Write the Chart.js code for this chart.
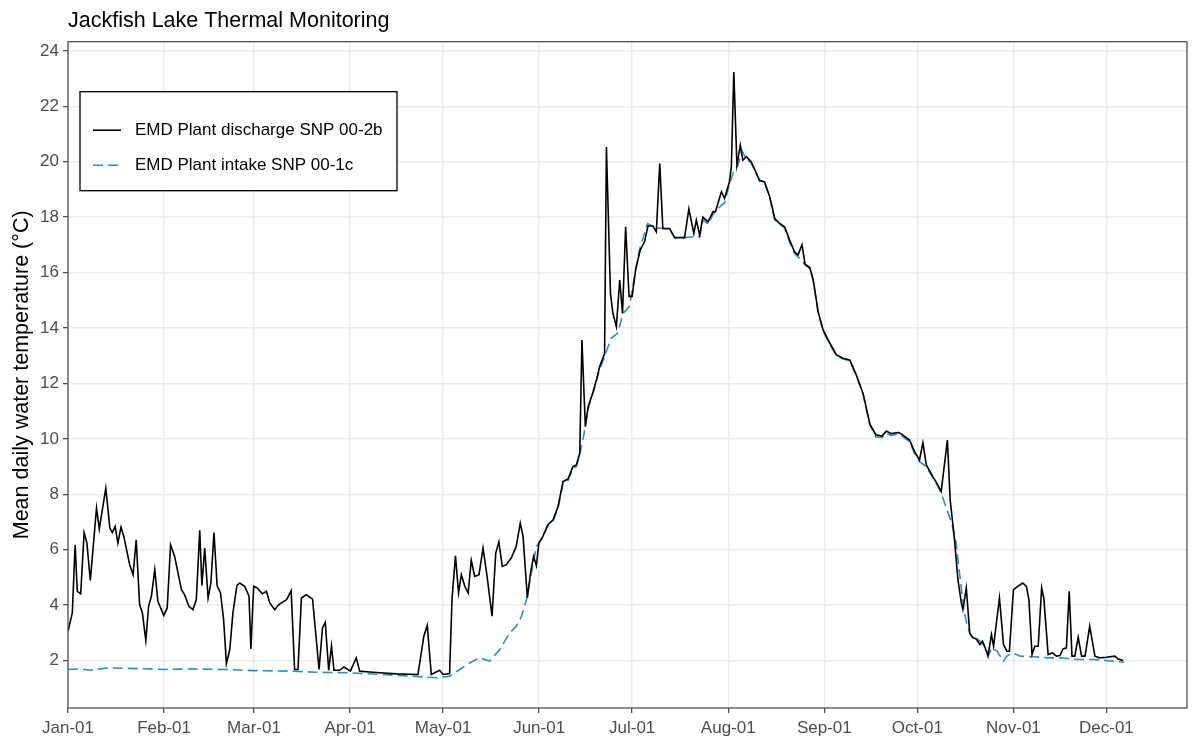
<!DOCTYPE html>
<html>
<head>
<meta charset="utf-8">
<title>Jackfish Lake Thermal Monitoring</title>
<script src="https://cdn.jsdelivr.net/npm/chart.js@4.4.0/dist/chart.umd.min.js"></script>
<style>
  html, body { margin: 0; padding: 0; background: #fff; }
  canvas { display: block; }
</style>
</head>
<body>
<canvas id="tempChart" width="1199" height="736"></canvas>
<script>
// labels
const chartTitle = 'Jackfish Lake Thermal Monitoring';
const yAxisTitle = 'Mean daily water temperature (°C)';
const seriesNames = ['EMD Plant discharge SNP 00-2b', 'EMD Plant intake SNP 00-1c'];

// x axis: day of year (leap year), ticks at month starts
const monthDays = [0, 31, 60, 91, 121, 152, 182, 213, 244, 274, 305, 335];
const monthLabels = ['Jan-01', 'Feb-01', 'Mar-01', 'Apr-01', 'May-01', 'Jun-01',
                     'Jul-01', 'Aug-01', 'Sep-01', 'Oct-01', 'Nov-01', 'Dec-01'];
const yTicks = [2, 4, 6, 8, 10, 12, 14, 16, 18, 20, 22, 24];

// discharge (day of year, deg C)
const dischargeDays = [
  0, 1.4, 2.3, 3.0, 4.1, 5.2, 6.1, 7.2, 9.2, 10.1, 12.2, 13.5, 14.3, 15.2, 16.1, 17.1, 18.0,
  19.9, 21.0, 22.0, 23.1, 24.0, 25.1, 26.0, 26.9, 28.0, 29.0, 30.9, 32.0, 33.1, 34.4, 36.6,
  37.6, 39.0, 40.3, 41.4, 42.5, 43.2, 44.1, 45.2, 46.1, 47.1, 48.1, 49.2, 50.2, 51.1, 52.2,
  53.2, 54.5, 55.4, 57.0, 58.4, 59.0, 59.9, 61.0, 62.7, 64.0, 65.1, 66.7, 68.0, 70.5, 72.0,
  73.1, 74.2, 75.3, 76.9, 78.9, 81.0, 82.1, 83.0, 84.1, 85.0, 85.8, 87.6, 89.0, 91.1, 93.0,
  94.1, 97.3, 100.6, 105.9, 112.9, 114.8, 115.9, 117.2, 119.9, 121.0, 123.1, 123.9, 125.0,
  126.0, 126.9, 128.0, 129.1, 130.1, 131.2, 132.6, 133.9, 135.2, 136.8, 138.0, 139.0, 140.1,
  141.4, 143.0, 144.6, 145.9, 146.8, 148.2, 149.2, 150.2, 151.1, 151.9, 153.2, 154.8, 156.5,
  158.1, 159.7, 161.3, 162.9, 164.0, 165.1, 165.8, 166.9, 167.8, 169.4, 170.5, 171.5, 173.1,
  173.7, 175.0, 175.8, 176.9, 178.0, 178.9, 179.9, 181.0, 182.0, 183.1, 184.6, 186.0, 187.1,
  188.7, 189.8, 190.9, 191.9, 194.1, 195.7, 198.9, 200.3, 201.9, 202.7, 203.8, 204.8, 206.5,
  208.1, 208.9, 210.8, 211.8, 213.4, 214.0, 214.8, 215.8, 216.9, 217.7, 218.8, 220.4, 222.1,
  223.1, 224.7, 226.4, 228.0, 229.6, 231.2, 232.8, 234.4, 235.5, 236.8, 237.8, 239.3, 240.4,
  242.0, 243.6, 245.8, 247.9, 250.0, 252.2, 254.3, 256.5, 258.7, 260.6, 262.6, 264.0, 265.6,
  267.9, 268.8, 271.5, 273.1, 274.7, 275.8, 276.9, 279.0, 280.6, 281.7, 283.7, 284.6, 286.0,
  287.1, 288.2, 288.7, 289.8, 290.9, 292.0, 293.0, 294.2, 295.0, 295.7, 296.8, 297.9, 298.6,
  300.5, 301.8, 302.9, 303.7, 305.0, 306.4, 308.0, 309.2, 310.0, 311.0, 311.9, 313.0, 314.1,
  314.8, 316.2, 317.6, 318.9, 320.0, 321.0, 322.1, 323.0, 323.9, 324.8, 325.9, 327.0, 328.1,
  329.6, 331.3, 332.8, 335.0, 337.7, 338.8, 340.4
];
const dischargeTemps = [
  3.06, 3.73, 6.18, 4.5, 4.41, 6.62, 6.24, 4.89, 7.5, 6.75, 8.22, 6.78, 6.62, 6.84, 6.24, 6.82, 6.48,
  5.46, 5.1, 6.36, 4.02, 3.72, 2.73, 3.96, 4.32, 5.28, 4.14, 3.63, 3.9, 6.18, 5.76, 4.56,
  4.38, 3.96, 3.84, 4.2, 6.7, 4.71, 6.06, 4.26, 4.8, 6.62, 4.71, 4.44, 3.48, 1.89, 2.4,
  3.72, 4.71, 4.8, 4.68, 4.32, 2.42, 4.68, 4.62, 4.41, 4.5, 4.08, 3.84, 4.02, 4.2, 4.52,
  1.68, 1.68, 4.26, 4.38, 4.22, 1.68, 3.18, 3.38, 1.65, 2.52, 1.65, 1.65, 1.77, 1.62, 2.1,
  1.62, 1.59, 1.56, 1.52, 1.5, 2.88, 3.27, 1.5, 1.65, 1.5, 1.53, 4.26, 5.78,
  4.44, 5.1, 4.68, 4.44, 5.62, 5.04, 5.1, 6.06, 5.04, 3.6, 5.88, 6.28, 5.4,
  5.46, 5.7, 6.12, 6.96, 6.48, 4.26, 5.16, 5.76, 5.42, 6.24, 6.48, 6.9, 7.08,
  7.56, 8.46, 8.55, 9.0, 9.06, 9.48, 13.57, 10.44, 11.16, 11.7, 12.13, 12.6, 13.08,
  20.53, 15.25, 14.53, 14.05, 15.73, 14.53, 17.65, 15.14, 15.14, 16.1, 16.81, 17.11, 17.68,
  17.68, 17.47, 19.93, 17.59, 17.59, 17.26, 17.26, 18.3, 17.41, 17.89, 17.35, 18.0, 17.83,
  18.2, 18.2, 18.92, 18.68, 19.28, 19.82, 23.24, 19.88, 20.6, 20.06, 20.18, 20.0, 19.58,
  19.33, 19.27, 18.73, 17.95, 17.77, 17.65, 17.17, 16.75, 16.63, 17.0, 16.3, 16.18, 15.75,
  14.59, 13.93, 13.45, 13.03, 12.91, 12.85, 12.31, 11.64, 10.53, 10.15, 10.1, 10.28, 10.19,
  10.23, 10.18, 9.96, 9.54, 9.24, 9.86, 9.06, 8.64, 8.34, 8.1, 9.96, 7.8, 6.36,
  4.92, 4.08, 3.84, 4.62, 3.0, 2.82, 2.78, 2.58, 2.7, 2.52, 2.16, 2.94, 2.52,
  4.26, 2.58, 2.34, 2.34, 4.56, 4.68, 4.8, 4.68, 4.2, 2.22, 2.52, 2.52, 4.62,
  4.26, 2.22, 2.28, 2.16, 2.18, 2.42, 2.46, 4.5, 2.16, 2.16, 2.84, 2.16, 2.16,
  3.24, 2.16, 2.1, 2.12, 2.16, 2.06, 2.0
];

// intake
const intakeDays = [
  0, 4, 7, 13, 23, 31, 40, 50, 60, 72, 80, 91, 101, 112, 119, 121, 123, 126.4, 129.6, 132.8,
  136.0, 139.3, 142.5, 144.6, 146.3, 147.9, 151.1, 153.2, 154.8, 156.5, 158.1, 159.7, 161.3,
  162.9, 164.0, 165.1, 166.5, 167.8, 169.4, 170.5, 171.5, 173.1, 175.2, 177.3, 179.1, 181.1,
  182.2, 184.3, 187.0, 189.7, 191.9, 194.1, 195.7, 198.9, 202.2, 203.8, 204.8, 206.5, 208.1,
  210.8, 211.8, 213.4, 214.5, 216.1, 217.4, 218.8, 220.4, 222.1, 223.1, 224.7, 226.4, 228.0,
  229.6, 231.2, 232.8, 234.4, 236.6, 237.8, 239.3, 240.4, 242.0, 243.6, 245.8, 247.9, 250.0,
  252.2, 254.3, 256.5, 258.7, 260.6, 262.6, 264.0, 265.6, 267.9, 268.8, 271.5, 273.1, 274.7,
  276.9, 279.0, 280.6, 281.7, 283.2, 285.1, 286.5, 288.1, 289.2, 290.2, 291.3, 293.4, 295.4,
  297.0, 298.1, 299.7, 301.8, 302.9, 304.6, 307.2, 311.6, 315.9, 320.2, 325.6, 331.0, 335.3,
  340.7
];
const intakeTemps = [
  1.68, 1.7, 1.65, 1.74, 1.71, 1.68, 1.7, 1.68, 1.64, 1.62, 1.58, 1.56, 1.5, 1.43, 1.38, 1.41, 1.43, 1.68, 1.92, 2.1,
  1.98, 2.4, 3.0, 3.24, 3.6, 4.2, 6.12, 6.45, 6.85, 7.05, 7.5, 8.4, 8.5,
  8.95, 9.0, 9.45, 10.2, 11.1, 11.65, 12.1, 12.5, 12.97, 13.63, 13.81, 14.53, 14.77,
  15.5, 16.8, 17.77, 17.62, 17.59, 17.55, 17.26, 17.26, 17.3, 17.3, 17.9, 17.75, 18.1,
  18.43, 18.5, 19.2, 19.57, 19.87, 20.4, 20.1, 19.95, 19.55, 19.3, 19.25, 18.7, 17.9,
  17.75, 17.6, 17.1, 16.69, 16.45, 16.27, 16.15, 15.7, 14.55, 13.9, 13.4, 13.0, 12.88,
  12.82, 12.28, 11.6, 10.5, 10.08, 10.05, 10.2, 10.12, 10.18, 10.12, 9.9, 9.48, 9.18,
  9.0, 8.6, 8.3, 8.04, 7.56, 6.96, 6.24, 4.68, 3.72, 3.24, 2.88, 2.78, 2.58,
  2.22, 2.46, 2.34, 1.98, 2.16, 2.28, 2.16, 2.14, 2.1, 2.1, 2.04, 2.04, 2.0,
  1.94
];

const toPoints = (xs, ys) => xs.map((x, i) => ({ x, y: ys[i] }));

const fontFamily = "'Liberation Sans', Arial, sans-serif";
Chart.defaults.font.family = fontFamily;

// title, panel border and boxed legend, drawn the ggplot way
const ggFrame = {
  id: 'ggFrame',
  afterDatasetsDraw(chart) {
    const { ctx, chartArea: a } = chart;
    ctx.save();
    ctx.strokeStyle = '#444';
    ctx.lineWidth = 1.2;
    ctx.strokeRect(a.left, a.top, a.right - a.left, a.bottom - a.top);
    ctx.restore();
  },
  afterDraw(chart) {
    const { ctx, chartArea: a } = chart;
    ctx.save();
    ctx.fillStyle = '#000';
    ctx.font = '21.5px ' + fontFamily;
    ctx.textBaseline = 'alphabetic';
    ctx.textAlign = 'left';
    ctx.fillText(chartTitle, a.left, 27);

    // legend box
    const bx = a.left + 12, by = a.top + 50, bw = 317, bh = 99;
    ctx.fillStyle = '#fff';
    ctx.fillRect(bx, by, bw, bh);
    ctx.strokeStyle = '#000';
    ctx.lineWidth = 1.3;
    ctx.strokeRect(bx, by, bw, bh);
    ctx.font = '17px ' + fontFamily;
    ctx.textBaseline = 'middle';
    chart.data.datasets.forEach((ds, i) => {
      const ry = by + 38.5 + i * 35;
      ctx.strokeStyle = ds.borderColor;
      ctx.lineWidth = ds.borderWidth;
      ctx.setLineDash(ds.borderDash || []);
      ctx.beginPath();
      ctx.moveTo(bx + 13, ry);
      ctx.lineTo(bx + 41, ry);
      ctx.stroke();
      ctx.setLineDash([]);
      ctx.fillStyle = '#000';
      ctx.fillText(ds.label, bx + 55, ry);
    });
    ctx.restore();
  }
};

const gridStyle = {
  color: '#ebebeb',
  lineWidth: 1.4,
  tickColor: '#333',
  tickLength: 5,
  tickWidth: 1.1
};

new Chart(document.getElementById('tempChart'), {
  type: 'line',
  data: {
    datasets: [
      {
        label: seriesNames[0],
        data: toPoints(dischargeDays, dischargeTemps),
        borderColor: '#000',
        borderWidth: 1.6,
        pointRadius: 0,
        tension: 0,
        fill: false
      },
      {
        label: seriesNames[1],
        data: toPoints(intakeDays, intakeTemps),
        borderColor: '#2590cf',
        borderWidth: 1.6,
        borderDash: [10, 5],
        pointRadius: 0,
        tension: 0,
        fill: false
      }
    ]
  },
  options: {
    responsive: false,
    animation: false,
    layout: { padding: { top: 41.7, right: 12, bottom: 0, left: 0 } },
    plugins: {
      legend: { display: false },
      tooltip: { enabled: false }
    },
    scales: {
      x: {
        type: 'linear',
        min: 0,
        max: 361,
        afterBuildTicks: s => { s.ticks = monthDays.map(v => ({ value: v })); },
        afterFit: s => { s.height = 28; },
        grid: gridStyle,
        border: { display: false },
        ticks: {
          autoSkip: false,
          maxRotation: 0,
          color: '#4d4d4d',
          font: { size: 17 },
          padding: 5,
          callback: (v, i) => monthLabels[i]
        }
      },
      y: {
        min: 0.29,
        max: 24.33,
        afterBuildTicks: s => { s.ticks = yTicks.map(v => ({ value: v })); },
        afterFit: s => { s.width = 68; },
        grid: gridStyle,
        border: { display: false },
        ticks: { color: '#4d4d4d', font: { size: 17 }, padding: 4 },
        title: {
          display: true,
          text: yAxisTitle,
          color: '#000',
          font: { size: 21.5 },
          padding: { top: 9, bottom: 0 }
        }
      }
    }
  },
  plugins: [ggFrame]
});
</script>
</body>
</html>
